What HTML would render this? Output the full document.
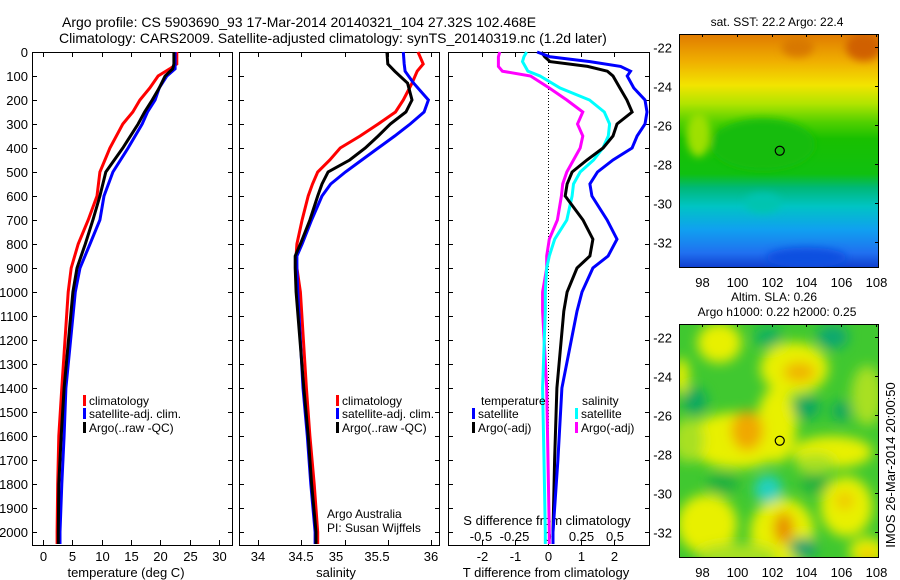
<!DOCTYPE html>
<html><head><meta charset="utf-8"><style>
body{margin:0;background:#fff;}
svg{display:block;font-family:"Liberation Sans",sans-serif;}
</style></head><body>
<svg id="c" width="900" height="580" xmlns="http://www.w3.org/2000/svg">
<defs>
<linearGradient id="sst" x1="0" y1="0" x2="0" y2="1">
<stop offset="0" stop-color="#e07a00"/><stop offset="0.12" stop-color="#f0b000"/><stop offset="0.22" stop-color="#f2e400"/>
<stop offset="0.3" stop-color="#b0e400"/><stop offset="0.38" stop-color="#50d000"/><stop offset="0.45" stop-color="#18c000"/><stop offset="0.6" stop-color="#10c010"/>
<stop offset="0.66" stop-color="#00b878"/><stop offset="0.74" stop-color="#00c4c4"/><stop offset="0.84" stop-color="#10a0f0"/>
<stop offset="0.94" stop-color="#2070f0"/><stop offset="1" stop-color="#1040d0"/></linearGradient>
<filter id="blur" x="-30%" y="-30%" width="160%" height="160%"><feGaussianBlur stdDeviation="6"/></filter>
<filter id="blur2"><feGaussianBlur stdDeviation="4"/></filter>
<clipPath id="cm1"><rect x="679" y="34" width="199" height="233"/></clipPath>
<clipPath id="cm2"><rect x="679" y="324" width="199" height="233"/></clipPath>
</defs>
<g id="g"></g>
</svg>
<script>
// ---- data ----
var depthsT = [0,50,70,100,150,200,250,300,400,500,600,700,800,900,1000,1400,1600,1800,2000,2050];
var tempClim = [22.8,22.8,21.6,19.6,18.2,16.5,15.3,13.6,11.4,9.7,9.2,7.7,6.0,4.8,4.3,3.2,2.7,2.5,2.4,2.4];
var tempSat  = [22.5,22.5,22.5,21.1,19.8,19.1,17.8,16.9,14.5,11.9,10.4,9.7,8.0,6.3,5.5,3.9,3.6,3.2,2.9,2.9];
var tempArgo = [22.3,22.3,22.1,20.8,19.8,18.6,17.3,16.2,13.6,10.7,9.7,8.5,7.2,5.8,5.1,3.6,3.1,2.7,2.6,2.6];
var depthsS = [0,50,80,130,200,250,300,350,400,450,500,550,600,700,800,850,900,1000,1400,1600,1800,2000,2050];
var salClim = [35.85,35.91,35.84,35.78,35.68,35.59,35.39,35.18,34.95,34.83,34.69,34.63,34.58,34.51,34.45,34.44,34.45,34.49,34.56,34.6,34.65,34.69,34.69];
var salSat  = [35.68,35.69,35.7,35.8,35.97,35.92,35.76,35.58,35.39,35.2,35.01,34.84,34.74,34.62,34.51,34.45,34.45,34.46,34.52,34.57,34.61,34.66,34.66];
var salArgo = [35.49,35.5,35.58,35.73,35.78,35.71,35.53,35.39,35.24,35.06,34.81,34.74,34.69,34.6,34.49,34.43,34.43,34.44,34.53,34.58,34.62,34.67,34.67];
var depthsD = [0,20,40,60,80,100,150,200,250,300,350,400,450,500,550,600,700,780,850,900,1000,1080,1400,1700,2000,2050];
var dTsat  = [-0.33,0.06,1.27,2.2,2.5,2.4,2.6,2.94,3.0,2.94,2.7,2.55,1.97,1.5,1.27,1.33,1.79,2.09,1.82,1.36,1.03,0.88,0.42,0.3,0.15,0.15];
var dTargo = [-0.2,-0.1,0.06,1.2,1.8,1.97,2.18,2.39,2.55,2.09,1.97,1.67,1.18,0.73,0.58,0.52,1.06,1.36,1.27,0.88,0.58,0.48,0.27,0.2,0.15,0.15];
var dSsat  = [-0.16,-0.18,-0.19,-0.17,-0.15,-0.06,0.09,0.31,0.42,0.46,0.45,0.41,0.34,0.24,0.19,0.18,0.14,0.05,0.01,-0.01,-0.02,-0.02,-0.04,-0.03,-0.02,-0.02];
var dSargo = [-0.36,-0.37,-0.37,-0.37,-0.34,-0.13,0.01,0.14,0.26,0.22,0.26,0.24,0.19,0.14,0.11,0.1,0.07,0.01,-0.01,-0.01,-0.04,-0.04,-0.01,0.0,0.01,0.01];
var depthTicks = [0,100,200,300,400,500,600,700,800,900,1000,1100,1200,1300,1400,1500,1600,1700,1800,1900,2000];
var tempTicks = [0,5,10,15,20,25,30];
var salTicks = [34,34.5,35,35.5,36];
var dTTicks = [-2,-1,0,1,2];
var dSTicks = [-0.5,-0.25,0,0.25,0.5];
var lonTicks = [98,100,102,104,106,108];
var latTicks = [-22,-24,-26,-28,-30,-32];
var argoLon = 102.468, argoLat = -27.32;

// ---- scales ----
function yD(p){return 52+0.24*p;}
function xT(t){return 43+5.87*t;}
function xS(s){return 258+86.5*(s-34);}
function xdT(d){return 548+33*d;}
function xdS(d){return 548+134*d;}
function mx(lon){return 702+17.4*(lon-98);}
function my1(lat){return 47+19.5*(-22-lat);}
function my2(lat){return 337+19.5*(-22-lat);}

var NS="http://www.w3.org/2000/svg", G=document.getElementById('g');
function el(tag,attrs,parent){var e=document.createElementNS(NS,tag);for(var k in attrs)e.setAttribute(k,attrs[k]);(parent||G).appendChild(e);return e;}
function txt(x,y,s,size,anchor,parent){var t=el('text',{x:x,y:y,'font-size':size||13,'text-anchor':anchor||'start',fill:'#000'},parent);t.textContent=s;return t;}

// ---- titles ----
var t1=txt(62,27,"Argo profile: CS 5903690_93 17-Mar-2014 20140321_104 27.32S 102.468E",14);


var t2=txt(59,43,"Climatology: CARS2009. Satellite-adjusted climatology: synTS_20140319.nc (1.2d later)",14);



// ---- panel frames ----
var panels=[[32,232],[239,439],[448,649]];
panels.forEach(function(p,i){
  var r=el('rect',{x:p[0]+0.5,y:52.5,width:p[1]-p[0],height:493,fill:'none',stroke:'#000','stroke-width':1});
  
  
  depthTicks.forEach(function(d){
    el('line',{x1:p[0],x2:p[0]+5,y1:yD(d)+0.5,y2:yD(d)+0.5,stroke:'#000'});
    el('line',{x1:p[1]-4,x2:p[1]+1,y1:yD(d)+0.5,y2:yD(d)+0.5,stroke:'#000'});
  });
});
depthTicks.forEach(function(d){
  var t=txt(28,yD(d)+5,String(d),13,'end');
  
  
});
function xticks(arr,fx,labels,labelX,ly){
  arr.forEach(function(v,i){
    var x=Math.round(fx(v))+0.5;
    el('line',{x1:x,x2:x,y1:52,y2:57,stroke:'#000'});
    el('line',{x1:x,x2:x,y1:540,y2:545,stroke:'#000'});
    if(labels){var t=txt(labelX?labelX[i]:x,ly,labels[i],13,'middle');
      
      }
  });
}
xticks(tempTicks,xT,tempTicks.map(String),null,561);
xticks(salTicks,xS,["34","34.5","35","35.5","36"],[258,301,336,377,431],561);
xticks(dTTicks,xdT,["-2","-1","0","1","2"],null,561);
dSTicks.forEach(function(v,i){
  var t=txt(xdS(v),541,["-0.5","-0.25","0","0.25","0.5"][i],13,'middle');
  
  
});
var at1=txt(126,577,"temperature (deg C)",13,'middle');
var at2=txt(336,577,"salinity",13,'middle');
var at3=txt(546,577,"T difference from climatology",13,'middle');
var at4=txt(547,525,"S difference from climatology",13,'middle');
var zl=el('line',{x1:548.5,x2:548.5,y1:53,y2:545,stroke:'#000','stroke-dasharray':'1,2'});



// ---- series ----
function series(depths,vals,fx,color,name){
  var pts=depths.map(function(d,i){return fx(vals[i]).toFixed(1)+','+yD(d).toFixed(1);}).join(' ');
  var pl=el('polyline',{points:pts,fill:'none',stroke:color,'stroke-width':3,'stroke-linejoin':'miter'});
  
  
}
series(depthsT,tempClim,xT,'#ff0000','temp-climatology-line');
series(depthsT,tempSat,xT,'#0000ff','temp-satellite-line');
series(depthsT,tempArgo,xT,'#000000','temp-argo-line');
series(depthsS,salClim,xS,'#ff0000','salinity-climatology-line');
series(depthsS,salSat,xS,'#0000ff','salinity-satellite-line');
series(depthsS,salArgo,xS,'#000000','salinity-argo-line');
series(depthsD,dSargo,xdS,'#ff00ff','s-diff-argo-line');
series(depthsD,dSsat,xdS,'#00ffff','s-diff-satellite-line');
series(depthsD,dTargo,xdT,'#000000','t-diff-argo-line');
series(depthsD,dTsat,xdT,'#0000ff','t-diff-satellite-line');

// ---- legends ----
function legItem(x,y,color,label,name){
  var g=el('g',{});
  
  
  el('rect',{x:x,y:y-10,width:3,height:11,fill:color},g);
  txt(x+6,y,label,12,'start',g);
}
legItem(83,405,'#ff0000','climatology','legend-climatology');
legItem(83,418,'#0000ff','satellite-adj. clim.','legend-satellite-adj');
legItem(83,432,'#000000','Argo(..raw -QC)','legend-argo');
legItem(336,405,'#ff0000','climatology','legend2-climatology');
legItem(336,418,'#0000ff','satellite-adj. clim.','legend2-satellite-adj');
legItem(336,432,'#000000','Argo(..raw -QC)','legend2-argo');
var lt=txt(481,405,"temperature",12);
var ls=txt(582,405,"salinity",12);
legItem(472,418,'#0000ff','satellite','legend-t-satellite');
legItem(472,432,'#000000','Argo(-adj)','legend-t-argo');
legItem(575,418,'#00ffff','satellite','legend-s-satellite');
legItem(575,432,'#ff00ff','Argo(-adj)','legend-s-argo');
var a1=txt(327,518,"Argo Australia",12);
var a2=txt(327,532,"PI: Susan Wijffels",12);

// ---- maps ----
var m1=el('g',{'clip-path':'url(#cm1)'});


el('rect',{x:679,y:34,width:199,height:233,fill:'url(#sst)'},m1);
var bl=el('g',{filter:'url(#blur2)'},m1);
el('ellipse',{cx:mx(101.5),cy:my1(-27),rx:52,ry:26,fill:'#14bc10'},bl);
el('ellipse',{cx:mx(107.3),cy:my1(-22),rx:18,ry:14,fill:'#d06000'},bl);
el('ellipse',{cx:mx(103.5),cy:my1(-22),rx:16,ry:10,fill:'#d87800'},bl);
el('ellipse',{cx:mx(97.8),cy:my1(-26.5),rx:12,ry:22,fill:'#9ee000'},bl);
el('ellipse',{cx:mx(101.5),cy:my1(-30),rx:18,ry:10,fill:'#00c4b0'},bl);
el('ellipse',{cx:mx(104),cy:my1(-32.8),rx:40,ry:10,fill:'#1050e0'},bl);
el('rect',{x:679.5,y:34.5,width:199,height:233,fill:'none',stroke:'#000'});
var m2=el('g',{'clip-path':'url(#cm2)'});


el('rect',{x:679,y:324,width:199,height:233,fill:'#40c830'},m2);
var b2=el('g',{filter:'url(#blur)'},m2);
var yellow='#e8f000', lg='#a8e020';
[[99,-22.3,22,20,yellow],[103.3,-23.6,34,26,yellow],[102.3,-26.5,20,38,yellow],[100,-27.3,50,28,yellow],[97.2,-27.3,16,22,lg],
 [107.5,-25,16,30,lg],[105.5,-27.9,40,16,yellow],[106.3,-30.7,26,30,yellow],[98.3,-31.6,30,30,yellow],[102.6,-32,32,34,yellow],
 [100,-33.2,40,12,lg],[107.5,-33,18,14,yellow],[96.8,-24,8,18,yellow],[104.5,-28.5,20,10,lg]].forEach(function(b){
  el('ellipse',{cx:mx(b[0]),cy:my2(b[1]),rx:b[2],ry:b[3],fill:b[4]},b2);});
[[100.6,-26.8,16,20,'#f0a800'],[103.6,-23.8,16,10,'#f0b400'],[102.7,-31.8,10,16,'#e89000'],[106.2,-30.4,9,9,'#f0c800'],[107.5,-33.2,7,7,'#f0c000']].forEach(function(b){
  el('ellipse',{cx:mx(b[0]),cy:my2(b[1]),rx:b[2],ry:b[3],fill:b[4]},b2);});
[[101.8,-29.8,14,14,'#20d0c0'],[104,-25.6,14,12,'#10a860'],[97.6,-25.3,12,14,'#10a860'],[101.8,-22,14,10,'#10b060'],[105.5,-22,16,12,'#10a870'],[103.8,-32.8,14,10,'#10a070'],[106,-25.8,10,10,'#10a860'],[99.2,-29.5,16,10,'#20b040'],[104.5,-29.5,14,10,'#20b040']].forEach(function(b){
  el('ellipse',{cx:mx(b[0]),cy:my2(b[1]),rx:b[2],ry:b[3],fill:b[4]},b2);});
el('rect',{x:679.5,y:324.5,width:199,height:233,fill:'none',stroke:'#000'});
var c1=el('circle',{cx:mx(argoLon),cy:my1(argoLat),r:4.5,fill:'none',stroke:'#000','stroke-width':1.2});


var c2=el('circle',{cx:mx(argoLon),cy:my2(argoLat),r:4.5,fill:'none',stroke:'#000','stroke-width':1.2});


[[my1,34,267],[my2,324,557]].forEach(function(m){
  latTicks.forEach(function(l){
    var y=Math.round(m[0](l))+0.5;
    el('line',{x1:875,x2:879,y1:y,y2:y,stroke:'#000'});
    var t=txt(672,y+5,String(l),13,'end');
    
    
  });
  lonTicks.forEach(function(l){
    var x=Math.round(mx(l))+0.5;
    el('line',{x1:x,x2:x,y1:m[1],y2:m[1]+3,stroke:'#000'});
    var t=txt(x,m[2]+20,String(l),13,'middle');
    
    
  });
});
var mt1=txt(777,26,"sat. SST: 22.2 Argo: 22.4",12,'middle');
var mt2=txt(774,301,"Altim. SLA: 0.26",12,'middle');
var mt3=txt(777,316,"Argo h1000: 0.22 h2000: 0.25",12,'middle');
var im=txt(0,0,"IMOS 26-Mar-2014 20:00:50",13,'middle');
im.setAttribute('transform','translate(895,465) rotate(-90)');


</script>
</body></html>
